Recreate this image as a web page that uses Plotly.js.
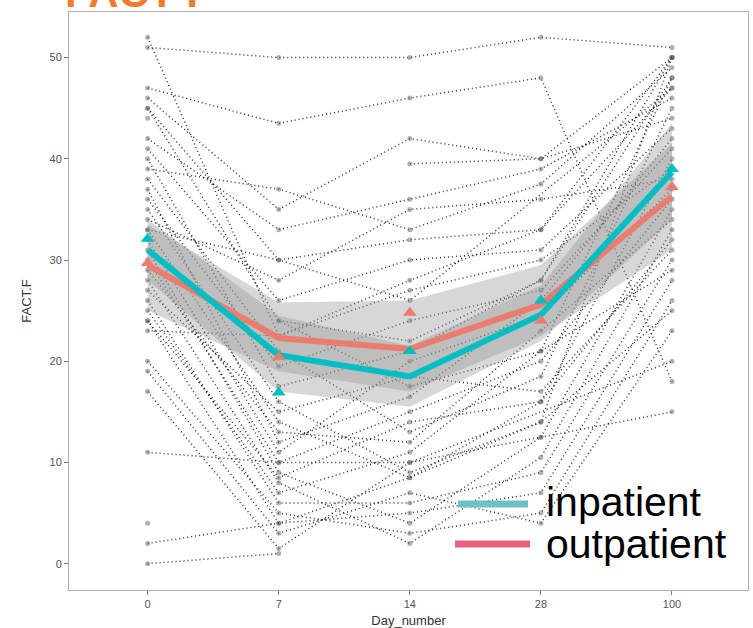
<!DOCTYPE html>
<html>
<head>
<meta charset="utf-8">
<script src="https://cdn.plot.ly/plotly-3.0.1.min.js"></script>
<style>html,body{margin:0;padding:0;background:#fff;}#chart{width:753px;height:628px;}</style>
</head>
<body>
<div id="chart"></div>
<script>
// Category tick labels (x axis)
const days = ['0', '7', '14', '28', '100'];

// Individual subjects: one value per subject in each day array (null = not observed)
const day0   = [51, 52, 47, 46, 45, 45, 42, 41, 40, 39, 38, 37, 36, 35, 34, 33, 32, 31, 30, 29, 28, 27, 26, 25, 24, 24, 20, 19, 17, 11, 2, 0, 44, 4, 23, 33, null, null];
const day7   = [50, 22.5, 43.5, 35, 30, 24, 33, 26, 17.5, 37, 21, 12, 19.5, 16, 28, 14, 11, 9, 10, 13, 8, 15, 6, 7, 4, 8.5, 5, 3, 1.5, 10, 4, 1, null, null, 22.5, 30, null, 24];
const day14  = [50, 28, 46, 42, 26, 17.5, 36, 30, 21, 33, 13, 16.5, 24, 9, 35, 8.5, 20, 4, 15, 12, 2, 18.5, 6, 11, 5, 14, 3, 7, 10, 10, 8.5, null, null, null, 27, 32, 39.5, 22];
const day28  = [52, 33, 48, 40, null, 21, 39, 31, 28, 37.5, 18.5, 26, 27, 14, 36, 16, 24.5, 12.5, 20, 23, 10.5, 17, 9, 21, 7, 16, 5, 4, null, 12.5, 14, null, null, null, 30, 33, 40, 28];
const day100 = [51, 50, 18, 44, 47, 48, 46, 43, 50, 49, 45, 42, 41, 50, 38, 40, 37, 35, 36, 34, 33, 31, 30, 29, 28, 32, 26, 23, 20, 15, 25, null, null, null, 39, 47, 50, 48];

// Group summaries
const inpatientLine  = [31.0, 20.6, 18.5, 24.6, 38.7];
const outpatientLine = [29.5, 22.3, 21.2, 25.6, 36.3];
const inpatientMean  = [32.1, 16.9, 21.0, 26.0, 39.0];
const outpatientMean = [29.7, 20.4, 24.8, 24.0, 37.2];
const inpatientLow   = [28.0, 17.0, 15.5, 22.0, 34.0];
const inpatientHigh  = [34.0, 24.5, 21.5, 27.5, 43.5];
const outpatientLow  = [25.0, 19.0, 17.0, 22.5, 31.0];
const outpatientHigh = [33.5, 25.8, 26.0, 29.5, 41.5];

const legendNames = ['inpatient', 'outpatient'];
const teal = '#00BFC4', salmon = '#EC7C6E';
const legendColors = ['#6FC0C5', '#E9607F'];

const traces = [];
// spaghetti lines
for (let i = 0; i < day0.length; i++) {
  const y = [day0[i], day7[i], day14[i], day28[i], day100[i]];
  traces.push({
    x: days, y: y, type: 'scatter', mode: 'lines+markers', connectgaps: true,
    line: {color: 'rgba(0,0,0,0.8)', width: 1.5, dash: '1px,3px'},
    marker: {color: 'rgba(100,100,100,0.5)', size: 5},
    showlegend: false, hoverinfo: 'skip'
  });
}
// ribbons
function ribbon(low, high) {
  traces.push({x: days, y: low, type: 'scatter', mode: 'lines', line: {width: 0, color: 'rgba(0,0,0,0)'}, showlegend: false, hoverinfo: 'skip'});
  traces.push({x: days, y: high, type: 'scatter', mode: 'lines', fill: 'tonexty', fillcolor: 'rgba(150,150,150,0.38)', line: {width: 0, color: 'rgba(0,0,0,0)'}, showlegend: false, hoverinfo: 'skip'});
}
ribbon(outpatientLow, outpatientHigh);
ribbon(inpatientLow, inpatientHigh);
// mean lines
traces.push({x: days, y: outpatientLine, type: 'scatter', mode: 'lines', line: {color: salmon, width: 6}, showlegend: false});
traces.push({x: days, y: inpatientLine, type: 'scatter', mode: 'lines', line: {color: teal, width: 6}, showlegend: false});
traces.push({x: days, y: outpatientMean, type: 'scatter', mode: 'markers', marker: {color: salmon, size: 12, symbol: 'triangle-up'}, showlegend: false});
traces.push({x: days, y: inpatientMean, type: 'scatter', mode: 'markers', marker: {color: teal, size: 12, symbol: 'triangle-up'}, showlegend: false});

const font = 'Liberation Sans, Arial, sans-serif';
const layout = {
  width: 753, height: 628,
  margin: {l: 69, r: 5, t: 12, b: 38},
  paper_bgcolor: '#fff', plot_bgcolor: '#fff',
  showlegend: false,
  title: {
    text: '<b>FACT F</b>', font: {family: font, size: 42, color: '#EE7D31'},
    xref: 'container', yref: 'container', x: 65 / 753, xanchor: 'left',
    y: 1 - 7 / 628, yanchor: 'bottom'
  },
  xaxis: {
    type: 'category', categoryorder: 'array', categoryarray: days,
    range: [-0.6, 4.58], showgrid: false, zeroline: false,
    showline: true, mirror: true, linecolor: '#b0b0b0', linewidth: 1,
    ticks: 'outside', ticklen: 4, tickcolor: '#777',
    tickfont: {family: font, size: 11, color: '#555'},
    title: {text: 'Day_number', font: {family: font, size: 13, color: '#333'}, standoff: 6}
  },
  yaxis: {
    range: [-2.6, 54.5], showgrid: false, zeroline: false,
    tickvals: [0, 10, 20, 30, 40, 50],
    showline: true, mirror: true, linecolor: '#b0b0b0', linewidth: 1,
    ticks: 'outside', ticklen: 4, tickcolor: '#777',
    tickfont: {family: font, size: 11, color: '#555'},
    title: {text: 'FACT.F', font: {family: font, size: 13, color: '#333'}, standoff: 14}
  },
  shapes: [
    {type: 'line', xref: 'paper', yref: 'paper', x0: 0.573, x1: 0.676, y0: 0.1488, y1: 0.1488, line: {color: legendColors[0], width: 7}},
    {type: 'line', xref: 'paper', yref: 'paper', x0: 0.5685, x1: 0.679, y0: 0.0796, y1: 0.0796, line: {color: legendColors[1], width: 7}}
  ],
  annotations: [
    {text: legendNames[0], xref: 'paper', yref: 'paper', x: 0.700, y: 0.152, xanchor: 'left', yanchor: 'middle', showarrow: false, font: {family: font, size: 41, color: '#000'}},
    {text: legendNames[1], xref: 'paper', yref: 'paper', x: 0.700, y: 0.0795, xanchor: 'left', yanchor: 'middle', showarrow: false, font: {family: font, size: 41, color: '#000'}}
  ]
};

Plotly.newPlot('chart', traces, layout, {displayModeBar: false, staticPlot: true});
</script>
</body>
</html>
